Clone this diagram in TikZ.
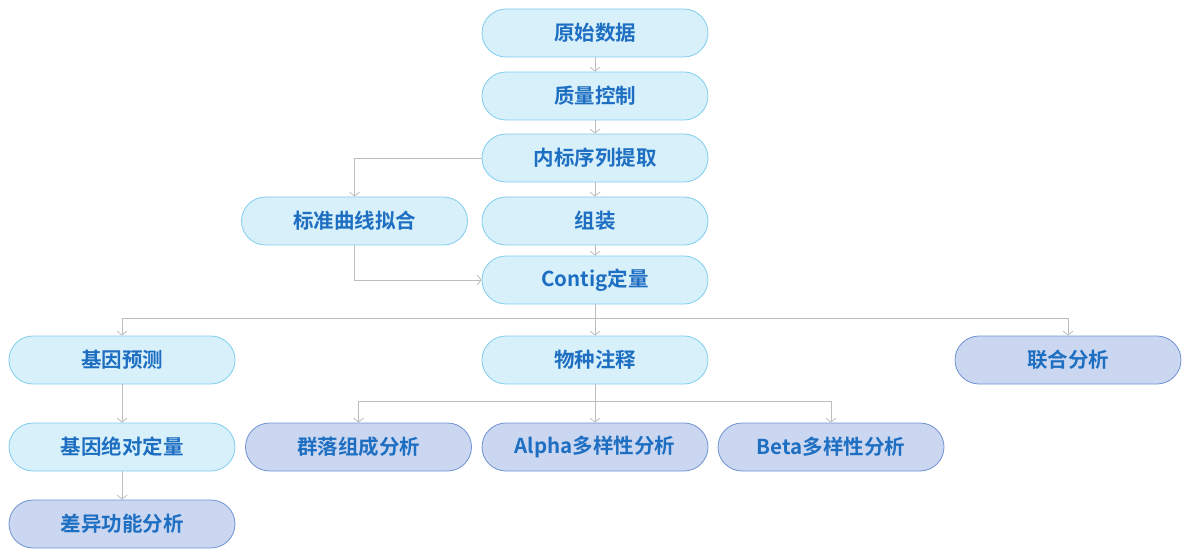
\documentclass[tikz,border=0pt]{standalone}
\usepackage{fontspec}
\newfontfamily\cjk{Noto Sans CJK SC}[BoldFont={Noto Sans CJK SC Bold}]
\usetikzlibrary{arrows.meta}
\definecolor{lfill}{HTML}{D7F0FA}
\definecolor{ldraw}{HTML}{80CDEE}
\definecolor{dfill}{HTML}{CBD7F0}
\definecolor{ddraw}{HTML}{6E92D2}
\definecolor{txt}{HTML}{1E6EC2}
\definecolor{conn}{HTML}{BDBDBD}
\tikzset{
  pill/.style={rectangle, minimum width=226pt, minimum height=48pt, rounded corners=24pt, line width=0.8pt, text=txt, font=\cjk\bfseries\fontsize{20.5pt}{22pt}\selectfont, inner sep=0pt},
  lite/.style={pill, fill=lfill, draw=ldraw},
  dark/.style={pill, fill=dfill, draw=ddraw},
  conn/.style={draw=conn, line width=0.8pt, -{Straight Barb[length=4pt,width=10pt,line width=0.8pt]}},
}
\begin{document}
\begin{tikzpicture}[x=1pt,y=-1pt]
\useasboundingbox (0,0) rectangle (1184,556);
\node[lite] (raw) at (595,33) {原始数据};
\node[lite] (qc) at (595,96) {质量控制};
\node[lite] (std) at (595,158) {内标序列提取};
\node[lite] (asm) at (595,221) {组装};
\node[lite] (fit) at (354.5,221) {标准曲线拟合};
\node[lite] (cq) at (595,280) {Contig定量};
\node[lite] (gp) at (122,360) {基因预测};
\node[lite] (sp) at (595,360) {物种注释};
\node[dark] (joint) at (1068,360) {联合分析};
\node[lite] (gq) at (122,447) {基因绝对定量};
\node[dark] (comm) at (358.5,447) {群落组成分析};
\node[dark] (alpha) at (595,447) {Alpha多样性分析};
\node[dark] (beta) at (831,447) {Beta多样性分析};
\node[dark] (diff) at (122,524) {差异功能分析};

\path[conn] (raw) -- (qc);
\path[conn] (qc) -- (std);
\path[conn] (std) -- (asm);
\path[conn] (asm) -- (cq);
\path[conn] (std.west) -| (fit.north);
\path[conn] (fit.south) |- (cq.west);
\coordinate (b1) at (595,318);
\draw[draw=conn,line width=0.8pt] (cq.south) -- (b1);
\path[conn] (b1) -| (gp.north);
\path[conn] (b1) -- (sp.north);
\path[conn] (b1) -| (joint.north);
\coordinate (b2) at (595,401);
\draw[draw=conn,line width=0.8pt] (sp.south) -- (b2);
\path[conn] (b2) -| (comm.north);
\path[conn] (b2) -- (alpha.north);
\path[conn] (b2) -| (beta.north);
\path[conn] (gp) -- (gq);
\path[conn] (gq) -- (diff);
\end{tikzpicture}
\end{document}
